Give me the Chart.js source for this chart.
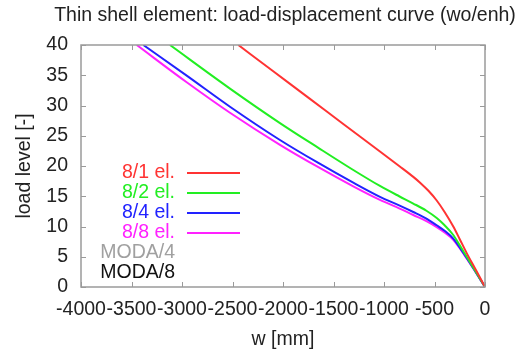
<!DOCTYPE html>
<html>
<head>
<meta charset="utf-8">
<script src="https://cdn.jsdelivr.net/npm/chart.js@4/dist/chart.umd.min.js"></script>
<style>
  html, body { margin:0; padding:0; background:#fff; }
  #wrap { width:523px; height:351px; }
</style>
</head>
<body>
<div id="wrap"><canvas id="c"></canvas></div>
<script>
// tick values
const X_TICKS = [-4000,-3500,-3000,-2500,-2000,-1500,-1000,-500,0];
const Y_TICKS = [0,5,10,15,20,25,30,35,40];

// load-displacement curves (w in mm, load level)
const W_8_1    = [0, -90, -181, -250, -314, -400, -478, -560, -640, -710, -850, -1040, -1400, -1733, -2100, -2442];
const LOAD_8_1 = [0, 2.8, 5.6, 7.9, 10.0, 12.4, 14.3, 15.9, 17.2, 18.2, 20.0, 22.4, 26.9, 31.1, 35.7, 40];

const W_8_2    = [0, -90, -181, -250, -314, -400, -478, -580, -710, -850, -1040, -1300, -1650, -2030, -2525, -3119];
const LOAD_8_2 = [0, 2.5, 5.0, 6.9, 8.6, 10.2, 11.4, 12.6, 13.8, 15.0, 16.7, 19.3, 23.0, 27.1, 32.8, 40];

const W_8_4    = [0, -90, -181, -250, -314, -400, -478, -580, -710, -850, -1040, -1300, -1650, -2030, -2525, -2950, -3383];
const LOAD_8_4 = [0, 2.4, 4.8, 6.5, 8.0, 9.3, 10.2, 11.3, 12.4, 13.5, 14.9, 17.2, 20.5, 24.3, 29.8, 34.9, 40];

const W_8_8    = [0, -90, -181, -250, -314, -400, -478, -580, -710, -850, -1040, -1300, -1650, -2030, -2525, -2950, -3448];
const LOAD_8_8 = [0, 2.4, 4.7, 6.4, 7.8, 9.0, 9.9, 10.9, 11.9, 13.0, 14.4, 16.6, 19.8, 23.5, 28.8, 33.8, 40];

// MODA reference results: no points in this plot
const W_MODA_4 = [], LOAD_MODA_4 = [];
const W_MODA_8 = [], LOAD_MODA_8 = [];

const FONT = '"Liberation Sans", Arial, sans-serif';
const FS = 19.5;
// points sorted by w so the monotone spline runs left to right
const pts = (xs, ys) => xs.map((x,i)=>({x, y:ys[i]})).sort((a,b)=>a.x-b.x);

const mk = (label, color, xs, ys) => ({
  label, data: pts(xs, ys), borderColor: color, backgroundColor: color,
  showLine: true, pointRadius: 0, borderWidth: 2, cubicInterpolationMode: 'monotone'
});

// gnuplot-like frame with inward ticks on all four sides
const framePlugin = {
  id: 'frame',
  afterDatasetsDraw(chart){
    const {ctx, chartArea:a, scales:{x, y}} = chart;
    ctx.save();
    ctx.strokeStyle = '#9a9a9a';
    ctx.lineWidth = 1.5;
    ctx.strokeRect(a.left, a.top, a.right-a.left, a.bottom-a.top);
    ctx.lineWidth = 1;
    ctx.beginPath();
    X_TICKS.forEach(v=>{
      const px = Math.round(x.getPixelForValue(v))+0.5;
      ctx.moveTo(px, a.bottom); ctx.lineTo(px, a.bottom-5);
      ctx.moveTo(px, a.top); ctx.lineTo(px, a.top+5);
    });
    Y_TICKS.forEach(v=>{
      const py = Math.round(y.getPixelForValue(v))+0.5;
      ctx.moveTo(a.left, py); ctx.lineTo(a.left+5, py);
      ctx.moveTo(a.right, py); ctx.lineTo(a.right-5, py);
    });
    ctx.stroke();
    ctx.restore();
  }
};

// title + key in gnuplot style (text right aligned, sample line after it)
const keyPlugin = {
  id: 'key',
  afterDraw(chart){
    const {ctx, chartArea:a} = chart;
    ctx.save();
    ctx.font = FS + 'px ' + FONT;
    ctx.fillStyle = '#222';
    ctx.textAlign = 'center';
    ctx.textBaseline = 'middle';
    ctx.fillText('Thin shell element: load-displacement curve (wo/enh)', (a.left+a.right)/2 + 2, 16);

    ctx.textAlign = 'right';
    chart.data.datasets.forEach((ds, i)=>{
      const yy = a.top + 128 + i*20;
      ctx.fillStyle = ds.borderColor;
      ctx.fillText(ds.label, a.left + 94, yy);
      if(ds.data.length){
        ctx.strokeStyle = ds.borderColor;
        ctx.lineWidth = 2;
        ctx.beginPath();
        ctx.moveTo(a.left + 106, yy); ctx.lineTo(a.left + 159, yy);
        ctx.stroke();
      }
    });
    ctx.restore();
  }
};

new Chart(document.getElementById('c'), {
  type: 'scatter',
  data: {
    datasets: [
      mk('8/1 el.', '#ff3333', W_8_1, LOAD_8_1),
      mk('8/2 el.', '#22ee22', W_8_2, LOAD_8_2),
      mk('8/4 el.', '#2222ff', W_8_4, LOAD_8_4),
      mk('8/8 el.', '#ff22ff', W_8_8, LOAD_8_8),
      mk('MODA/4', '#a0a0a0', W_MODA_4, LOAD_MODA_4),
      mk('MODA/8', '#111111', W_MODA_8, LOAD_MODA_8)
    ]
  },
  options: {
    responsive: true,
    maintainAspectRatio: false,
    animation: false,
    layout: { padding: { top: 45, right: 38, left: 0, bottom: 0 } },
    plugins: { legend: { display: false }, tooltip: { enabled: false }, title: { display: false } },
    scales: {
      x: {
        type: 'linear', min: -4000, max: 0,
        afterBuildTicks: s => { s.ticks = X_TICKS.map(v=>({value:v})); },
        afterFit: s => { s.height = 64; },
        grid: { display: false, drawTicks: false },
        border: { display: false },
        ticks: { color: '#222', font: { family: FONT, size: FS }, padding: 11, maxRotation: 0, autoSkip: false,
                 callback: v => String(v) },
        title: { display: true, text: 'w [mm]', color: '#222', font: { family: FONT, size: FS }, padding: { top: 0, bottom: 0 } }
      },
      y: {
        type: 'linear', min: 0, max: 40,
        afterBuildTicks: s => { s.ticks = Y_TICKS.map(v=>({value:v})); },
        afterFit: s => { s.width = 81; },
        grid: { display: false, drawTicks: false },
        border: { display: false },
        ticks: { color: '#222', font: { family: FONT, size: FS }, padding: 13, autoSkip: false,
                 callback: v => String(v) },
        title: { display: true, text: 'load level [-]', color: '#222', font: { family: FONT, size: FS }, padding: { top: 13, bottom: 0 } }
      }
    }
  },
  plugins: [framePlugin, keyPlugin]
});
</script>
</body>
</html>
